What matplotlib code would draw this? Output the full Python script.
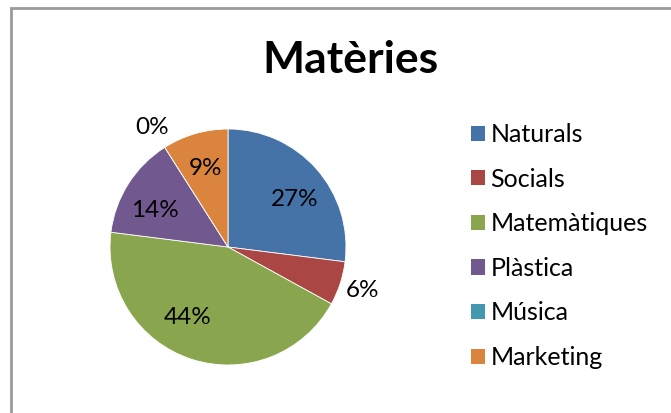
import numpy as np
import matplotlib.pyplot as plt
from matplotlib.patches import Rectangle

# ======================================
# DATA
# ======================================
title = 'Matèries'
categories = ['Naturals', 'Socials', 'Matemàtiques', 'Plàstica', 'Música', 'Marketing']
values = [27, 6, 44, 14, 0, 9]
colors = ['#4572A7', '#AA4643', '#89A54E', '#71588F', '#4198AF', '#DB843D']

plt.rcParams['font.family'] = ['Lato', 'DejaVu Sans']

W, H = 671, 413
fig = plt.figure(figsize=(W / 100, H / 100), dpi=100)
fig.patch.set_facecolor('white')

# chart border (grey frame, open to the right/bottom like the crop)
fig.patches.append(Rectangle((11 / W, -0.05), 1.1, (H - 8) / H + 0.05,
                             transform=fig.transFigure, fill=False,
                             edgecolor='#9a9a9a', linewidth=2))

# pie axes: center (228, 247), radius 118 px
cx, cy, r = 228, 247, 118
ax = fig.add_axes([(cx - r) / W, (H - cy - r) / H, 2 * r / W, 2 * r / H])
wedges, _ = ax.pie(values, colors=colors, startangle=90, counterclock=False,
                   wedgeprops=dict(linewidth=0.6, edgecolor='white'))
ax.set_xlim(-1, 1)
ax.set_ylim(-1, 1)
ax.set_aspect('equal')
ax.axis('off')

# percentage labels (inside for big slices, outside for small ones)
total = float(sum(values))
start = 90.0
for val, w in zip(values, wedges):
    frac = val / total
    mid = start - frac * 360 / 2
    start -= frac * 360
    pct = f'{round(frac * 100):.0f}%'
    if frac < 0.08:
        dist = 1.2
    else:
        dist = 0.69
    if val == 44:
        mid -= 12
    elif val == 27:
        mid -= 6
    elif val == 14:
        mid += 6
    x = dist * np.cos(np.radians(mid))
    y = dist * np.sin(np.radians(mid))
    ax.text(x, y, pct, ha='center', va='center', fontsize=17.5, color='black')

fig.text(350 / W, 1 - 60 / H, title, ha='center', va='center',
         fontsize=32, fontweight='bold')

# legend
handles = [Rectangle((0, 0), 1, 1, facecolor=c, edgecolor='none') for c in colors]
leg = fig.legend(handles, categories, loc='upper left',
                 bbox_to_anchor=(461 / W, 1 - 113 / H), frameon=False,
                 fontsize=18, handlelength=0.56, handleheight=0.56,
                 handletextpad=0.22, labelspacing=0.865, borderaxespad=0)

fig.savefig('out.png', dpi=100, facecolor='white')
